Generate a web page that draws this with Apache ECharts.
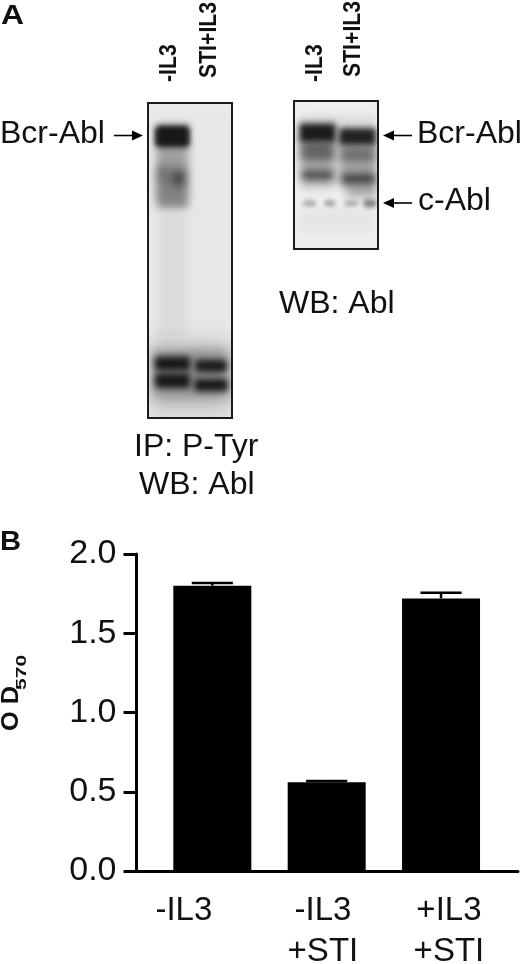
<!DOCTYPE html>
<html>
<head>
<meta charset="utf-8">
<style>html,body{margin:0;padding:0;background:#fff}#c{width:520px;height:964px}</style>
<script src="https://cdn.jsdelivr.net/npm/echarts@6/dist/echarts.min.js"></script>
</head>
<body>
<div id="c"></div>
<script>
// Panel B data
const treatments = ['-IL3', '-IL3\n+STI', '+IL3\n+STI'];
const od570Means = [1.80, 0.56, 1.72];
const od570Upper = [1.817, 0.568, 1.755];
const yTicks = [0, 0.5, 1.0, 1.5, 2.0];
const yTitle = ['O D', '570'];

// Panel A densitometry, in percent of blot width (lane) and percent of blot height (migration)
// [lane start, lane end, migration start, migration end, density, softness]
const blotIpBands = [
  [0, 100, 75, 100, 0.14, 10],
  [0, 100, 0, 75, 0.02, 6],
  [12, 45, 30, 75, 0.05, 6],
  [10, 48, 13, 33, 0.34, 4],
  [10, 47, 20, 31, 0.22, 4],
  [29, 43, 22, 26, 0.6, 4],
  [11, 22, 20, 25, 0.18, 4],
  [13, 47, 31.5, 33, 0.16, 3],
  [9, 49, 7, 14, 0.97, 3],
  [9, 49, 8, 13.5, 0.6, 2],
  [8, 50, 80.5, 85, 0.97, 3],
  [8, 50, 85.8, 90.5, 0.97, 3],
  [56, 94, 81.5, 85.5, 0.95, 3],
  [55, 95, 87.5, 91.5, 0.97, 3],
  [5, 97, 78, 94, 0.32, 6]
];
const blotWbBands = [
  [6, 50, 15, 28, 0.97, 3],
  [7, 49, 27, 41, 0.64, 4],
  [7, 49, 41, 46, 0.28, 4],
  [8, 48, 46, 54, 0.75, 4],
  [9, 47, 54, 60, 0.14, 4],
  [11, 26, 67, 71, 0.32, 2],
  [36, 49, 67, 71, 0.36, 2],
  [53, 98, 18, 30, 0.94, 3],
  [54, 98, 30, 42, 0.58, 4],
  [54, 98, 42, 48, 0.32, 4],
  [55, 98, 48, 57, 0.78, 4],
  [62, 98, 57, 65, 0.32, 5],
  [60, 76, 67.5, 71, 0.3, 2],
  [83, 98, 66.5, 72, 0.48, 2],
  [5, 97, 10, 16, 0.1, 4],
  [5, 97, 72, 90, 0.04, 6]
];

const gelLaneLabels = ['-IL3', 'STI+IL3'];
const bandNames = ['Bcr-Abl', 'c-Abl'];
const captionIp = ['IP: P-Tyr', 'WB: Abl'];
const captionWb = 'WB: Abl';

const FONT = '"Liberation Sans", Arial, sans-serif';

function bandRenderer() {
  return function (params, api) {
    const p0 = api.coord([api.value(0), api.value(2)]);
    const p1 = api.coord([api.value(1), api.value(3)]);
    const a = api.value(4), blur = api.value(5);
    const box = params.coordSys;
    const away = 2000;
    return {
      type: 'rect',
      shape: { x: p0[0] - away, y: p0[1], width: p1[0] - p0[0], height: p1[1] - p0[1], r: 3 },
      style: { fill: '#000', shadowBlur: blur * 2, shadowOffsetX: away, shadowColor: 'rgba(22,22,22,' + a + ')' },
      clipPath: { type: 'rect', shape: { x: box.x, y: box.y, width: box.width, height: box.height } }
    };
  };
}

function label(text, x, y, size, weight, align, vAlign, rot, sx) {
  return {
    type: 'text', x: x, y: y, rotation: rot || 0, scaleX: sx || 1, z: 20,
    style: { text: text, fill: '#111', font: (weight || 'normal') + ' ' + size + 'px ' + FONT, textAlign: align || 'left', textVerticalAlign: vAlign || 'middle' }
  };
}
function arrow(x0, x1, y) {
  const dir = x1 > x0 ? 1 : -1;
  return [
    { type: 'line', z: 20, shape: { x1: x0, y1: y, x2: x1 - dir * 6, y2: y }, style: { stroke: '#000', lineWidth: 1.6 } },
    { type: 'polygon', z: 20, shape: { points: [[x1, y], [x1 - dir * 11, y - 5], [x1 - dir * 11, y + 5]] }, style: { fill: '#000' } }
  ];
}

const xMin = -0.663, xMax = 2.673;
const tickAnchors = [-0.249, 0.967, 2.069];

const option = {
  animation: false,
  backgroundColor: '#fff',
  grid: [
    { left: 136.5, top: 554, width: 381.5, height: 317, outerBoundsMode: 'none' },
    { left: 148, top: 103, width: 84, height: 315, outerBoundsMode: 'none', show: true, backgroundColor: '#ececec', borderColor: '#1c1c1c', borderWidth: 2 },
    { left: 294, top: 101, width: 84, height: 148, outerBoundsMode: 'none', show: true, backgroundColor: '#efefef', borderColor: '#1c1c1c', borderWidth: 2 }
  ],
  xAxis: [
    {
      gridIndex: 0, type: 'value', min: xMin, max: xMax, splitLine: { show: false },
      axisLine: { show: true, onZero: false, lineStyle: { color: '#000', width: 3 } },
      axisTick: { show: false },
      axisLabel: {
        customValues: tickAnchors, showMinLabel: true, showMaxLabel: true, margin: 19, hideOverlap: false,
        color: '#111', fontFamily: FONT, fontSize: 33, lineHeight: 41, align: 'center', verticalAlign: 'top',
        formatter: function (v) { return treatments[tickAnchors.indexOf(v)] || ''; }
      }
    },
    { gridIndex: 1, type: 'value', min: 0, max: 100, show: false },
    { gridIndex: 2, type: 'value', min: 0, max: 100, show: false }
  ],
  yAxis: [
    {
      gridIndex: 0, type: 'value', min: 0, max: 2, interval: 0.5, splitLine: { show: false },
      axisLine: { show: true, onZero: false, lineStyle: { color: '#000', width: 3 } },
      axisTick: { show: true, length: 13, lineStyle: { color: '#000', width: 3 } },
      axisLabel: { margin: 20, color: '#111', fontFamily: FONT, fontSize: 34, formatter: function (v) { return v.toFixed(1); } }
    },
    { gridIndex: 1, type: 'value', min: 0, max: 100, inverse: true, show: false },
    { gridIndex: 2, type: 'value', min: 0, max: 100, inverse: true, show: false }
  ],
  graphic: { elements: [
    label('A', 1, 17, 27, 'bold', 'left', 'middle', 0, 1.18),
    label('B', 0, 543, 27, 'bold', 'left', 'middle', 0, 1.08),
    label(yTitle[0], 11.5, 731, 23, 'bold', 'left', 'middle', Math.PI / 2, 1.1),
    label(yTitle[1], 22, 690, 14.5, 'bold', 'left', 'middle', Math.PI / 2, 1.45),
    label(gelLaneLabels[0], 169, 82, 24, 'bold', 'left', 'middle', Math.PI / 2, 0.884),
    label(gelLaneLabels[1], 209, 78, 24, 'bold', 'left', 'middle', Math.PI / 2, 0.884),
    label(gelLaneLabels[0], 315, 82, 24, 'bold', 'left', 'middle', Math.PI / 2, 0.884),
    label(gelLaneLabels[1], 353, 77, 24, 'bold', 'left', 'middle', Math.PI / 2, 0.884),
    label(bandNames[0], 0, 134, 32),
    label(bandNames[0], 417, 134, 32),
    label(bandNames[1], 418, 201, 32),
    label(captionWb, 279, 304, 32),
    label(captionIp[0], 134, 447, 32),
    label(captionIp[1], 139, 485, 32)
  ].concat(arrow(114, 143, 135.5), arrow(412, 383, 135.5), arrow(412, 383, 203)) },
  series: [
    {
      type: 'bar', xAxisIndex: 0, yAxisIndex: 0, barWidth: 78, z: 3,
      itemStyle: { color: '#000' },
      data: od570Means.map(function (v, i) { return [i, v]; })
    },
    {
      type: 'custom', xAxisIndex: 0, yAxisIndex: 0, z: 4, clip: false,
      data: od570Means.map(function (v, i) { return [i, v, od570Upper[i]]; }),
      renderItem: function (params, api) {
        const c = api.coord([api.value(0), api.value(1)]);
        const u = api.coord([api.value(0), api.value(2)]);
        const half = api.size([0.36, 0])[0] / 2;
        const s = { stroke: '#000', lineWidth: 2.5 };
        return { type: 'group', children: [
          { type: 'line', shape: { x1: c[0], y1: c[1], x2: u[0], y2: u[1] }, style: s },
          { type: 'line', shape: { x1: u[0] - half, y1: u[1], x2: u[0] + half, y2: u[1] }, style: s }
        ] };
      }
    },
    { type: 'custom', xAxisIndex: 1, yAxisIndex: 1, data: blotIpBands, renderItem: bandRenderer(), clip: false, encode: { x: [0, 1], y: [2, 3] } },
    { type: 'custom', xAxisIndex: 2, yAxisIndex: 2, data: blotWbBands, renderItem: bandRenderer(), clip: false, encode: { x: [0, 1], y: [2, 3] } }
  ]
};
const chart = echarts.init(document.getElementById('c'), null, { renderer: 'canvas' });
chart.setOption(option);
</script>
</body>
</html>
